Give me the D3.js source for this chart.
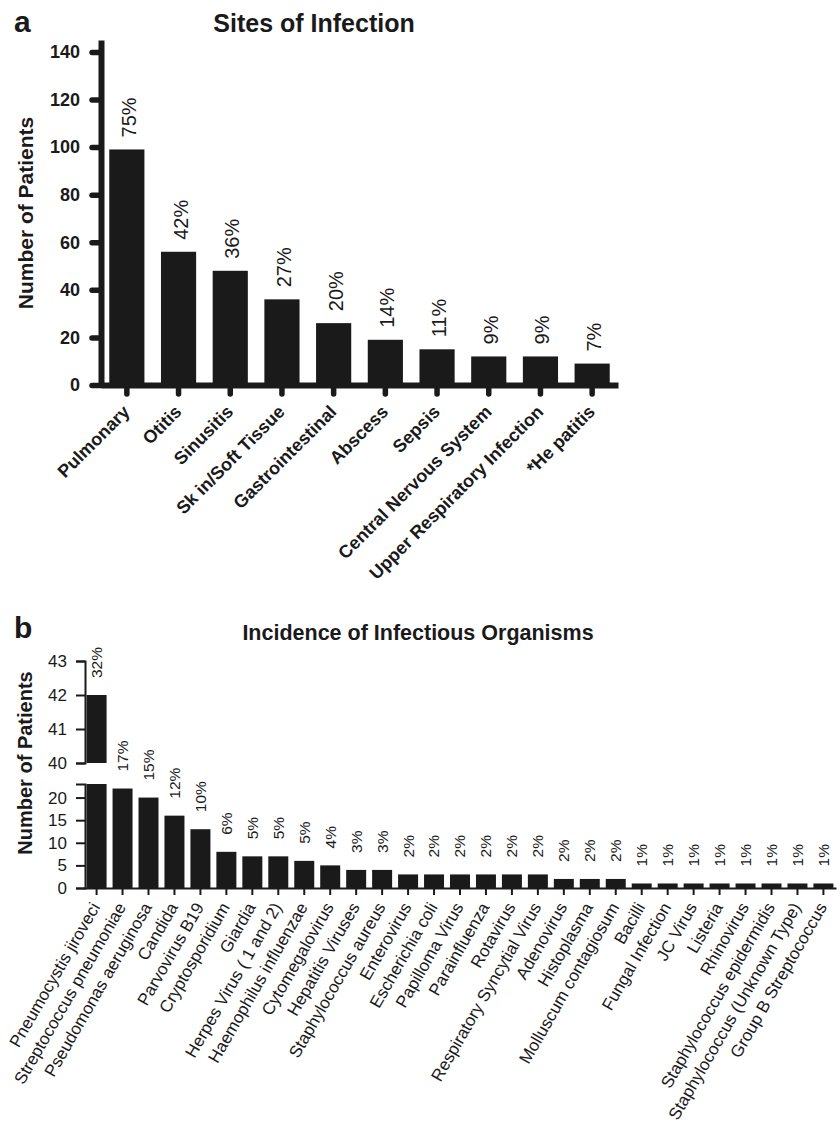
<!DOCTYPE html>
<html>
<head>
<meta charset="utf-8">
<script src="https://cdn.jsdelivr.net/npm/d3@7"></script>
<style>
  body { margin: 0; background: #fff; }
  svg { display: block; font-family: Arial, "Liberation Sans", Helvetica, sans-serif; }
  text { fill: #1a1a1a; }
</style>
</head>
<body>
<svg id="chart" width="840" height="1130"></svg>
<script>
// Panel a: sites of infection
const sites = ['Pulmonary', 'Otitis', 'Sinusitis', 'Sk in/Soft Tissue', 'Gastrointestinal',
    'Abscess', 'Sepsis', 'Central Nervous System', 'Upper Respiratory Infection', '*He patitis'];
const sitePatients = [99, 56, 48, 36, 26, 19, 15, 12, 12, 9];
const sitePercents = ['75%', '42%', '36%', '27%', '20%', '14%', '11%', '9%', '9%', '7%'];
const siteTicks = [0, 20, 40, 60, 80, 100, 120, 140];

// Panel b: incidence of organisms
const organisms = ['Pneumocystis jiroveci', 'Streptococcus pneumoniae', 'Pseudomonas aeruginosa',
    'Candida', 'Parvovirus B19', 'Cryptosporidium', 'Giardia', 'Herpes Virus ( 1 and 2)',
    'Haemophilus influenzae', 'Cytomegalovirus', 'Hepatitis Viruses', 'Staphylococcus aureus',
    'Enterovirus', 'Escherichia coli', 'Papilloma Virus', 'Parainfluenza', 'Rotavirus',
    'Respiratory Syncytial Virus', 'Adenovirus', 'Histoplasma', 'Molluscum contagiosum',
    'Bacilli', 'Fungal Infection', 'JC Virus', 'Listeria', 'Rhinovirus',
    'Staphylococcus epidermidis', 'Staphylococcus (Unknown Type)', 'Group B Streptococcus'];
const organismPatients = [42, 22, 20, 16, 13, 8, 7, 7, 6, 5, 4, 4, 3, 3, 3, 3, 3, 3,
    2, 2, 2, 1, 1, 1, 1, 1, 1, 1, 1];
const organismPercents = ['32%', '17%', '15%', '12%', '10%', '6%', '5%', '5%', '5%', '4%',
    '3%', '3%', '2%', '2%', '2%', '2%', '2%', '2%', '2%', '2%', '2%',
    '1%', '1%', '1%', '1%', '1%', '1%', '1%', '1%'];
const lowerTicks = [0, 5, 10, 15, 20];
const upperTicks = [40, 41, 42, 43];
const lowerMax = 23;   // axis break
const upperMin = 40;

const ink = '#1a1a1a';
const svg = d3.select('#chart');

// ---------- panel a ----------
const xA = d3.scaleBand().domain(sites).range([101, 618]).paddingInner(0.32).paddingOuter(0.16);
const yA = d3.scaleLinear().domain([0, 145]).range([385, 40]);

svg.append('text').attr('x', 14).attr('y', 32)
    .style('font-size', '30px').style('font-weight', 'bold').text('a');
svg.append('text').attr('x', 314).attr('y', 32).attr('text-anchor', 'middle')
    .style('font-size', '25px').style('font-weight', 'bold').text('Sites of Infection');
svg.append('text').attr('transform', 'translate(33,213) rotate(-90)').attr('text-anchor', 'middle')
    .style('font-size', '21px').style('font-weight', 'bold').text('Number of Patients');

const gA = svg.append('g');
gA.selectAll('.bar')
    .data(sitePatients)
    .enter()
    .append('rect')
    .attr('class', 'bar')
    .attr('x', (d, i) => xA(sites[i]))
    .attr('y', d => yA(d))
    .attr('width', xA.bandwidth())
    .attr('height', d => yA(0) - yA(d))
    .style('fill', ink);

gA.selectAll('.pct')
    .data(sitePercents)
    .enter()
    .append('text')
    .attr('transform', (d, i) => `translate(${xA(sites[i]) + xA.bandwidth() / 2 + 2},${yA(sitePatients[i]) - 12}) rotate(-90)`)
    .attr('dy', '0.35em')
    .style('font-size', '20px')
    .text(d => d);

// y axis (left)
const yAxisA = gA.append('g')
    .attr('transform', 'translate(101,0)')
    .call(d3.axisLeft(yA).tickValues(siteTicks).tickSize(9).tickSizeOuter(0).tickPadding(12));
// x axis (bottom)
const xAxisA = gA.append('g')
    .attr('transform', `translate(0,${yA(0)})`)
    .call(d3.axisBottom(xA).tickSize(9).tickSizeOuter(0));

[yAxisA, xAxisA].forEach(ax => {
    ax.select('.domain').style('stroke', ink).style('stroke-width', 6);
    ax.selectAll('.tick line').style('stroke', ink).style('stroke-width', 5.5).style('stroke-linecap', 'round');
});
yAxisA.selectAll('.tick text')
    .style('font-size', '18px').style('font-weight', 'bold').style('font-family', 'inherit').style('fill', ink);
xAxisA.selectAll('.tick text')
    .attr('x', 0).attr('y', 0).attr('dy', null)
    .attr('text-anchor', 'end')
    .attr('transform', 'translate(4,28) rotate(-45)')
    .style('font-size', '18px').style('font-weight', 'bold').style('font-family', 'inherit').style('fill', ink);

// ---------- panel b ----------
const xB = d3.scaleBand().domain(organisms).range([84, 836]).paddingInner(0.23).paddingOuter(0.1);
const yBL = d3.scaleLinear().domain([0, lowerMax]).range([888, 784]);
const yBU = d3.scaleLinear().domain([upperMin, 43]).range([763, 661]);

svg.append('text').attr('x', 14).attr('y', 638)
    .style('font-size', '30px').style('font-weight', 'bold').text('b');
svg.append('text').attr('x', 418).attr('y', 640).attr('text-anchor', 'middle')
    .style('font-size', '21.5px').style('font-weight', 'bold').text('Incidence of Infectious Organisms');
svg.append('text').attr('transform', 'translate(32,763) rotate(-90)').attr('text-anchor', 'middle')
    .style('font-size', '20px').style('font-weight', 'bold').text('Number of Patients');

const gB = svg.append('g');
// lower segment of bars (clipped at the axis break)
gB.selectAll('.bar-low')
    .data(organismPatients)
    .enter()
    .append('rect')
    .attr('class', 'bar-low')
    .attr('x', (d, i) => xB(organisms[i]))
    .attr('y', d => yBL(Math.min(d, lowerMax)))
    .attr('width', xB.bandwidth())
    .attr('height', d => yBL(0) - yBL(Math.min(d, lowerMax)))
    .style('fill', ink);
// upper segment for bars above the break
gB.selectAll('.bar-up')
    .data(organismPatients.map((d, i) => [organisms[i], d]).filter(d => d[1] > upperMin))
    .enter()
    .append('rect')
    .attr('class', 'bar-up')
    .attr('x', d => xB(d[0]))
    .attr('y', d => yBU(d[1]))
    .attr('width', xB.bandwidth())
    .attr('height', d => yBU(upperMin) - yBU(d[1]))
    .style('fill', ink);

const topOf = v => v > upperMin ? yBU(v) : yBL(Math.min(v, lowerMax));
gB.selectAll('.pct')
    .data(organismPercents)
    .enter()
    .append('text')
    .attr('transform', (d, i) => `translate(${xB(organisms[i]) + xB.bandwidth() / 2},${topOf(organismPatients[i]) - 17}) rotate(-90)`)
    .attr('dy', '0.35em')
    .style('font-size', '15.5px')
    .text(d => d);

const yAxisBL = gB.append('g').attr('transform', 'translate(85,0)')
    .call(d3.axisLeft(yBL).tickValues(lowerTicks).tickFormat(d3.format('d'))
        .tickSize(9).tickSizeOuter(9).tickPadding(9));
const yAxisBU = gB.append('g').attr('transform', 'translate(85,0)')
    .call(d3.axisLeft(yBU).tickValues(upperTicks).tickFormat(d3.format('d'))
        .tickSize(9).tickSizeOuter(9).tickPadding(9));
const xAxisB = gB.append('g').attr('transform', `translate(0,${yBL(0)})`)
    .call(d3.axisBottom(xB).tickSize(7).tickSizeOuter(0));

[yAxisBL, yAxisBU, xAxisB].forEach(ax => {
    ax.select('.domain').style('stroke', ink).style('stroke-width', 2);
    ax.selectAll('.tick line').style('stroke', ink).style('stroke-width', 2);
    ax.selectAll('.tick text').style('font-size', '17px').style('font-family', 'inherit').style('fill', ink);
});
xAxisB.selectAll('.tick text')
    .attr('x', 0).attr('y', 0).attr('dy', null)
    .attr('text-anchor', 'end')
    .attr('transform', 'translate(4,19) rotate(-60)');
</script>
</body>
</html>
